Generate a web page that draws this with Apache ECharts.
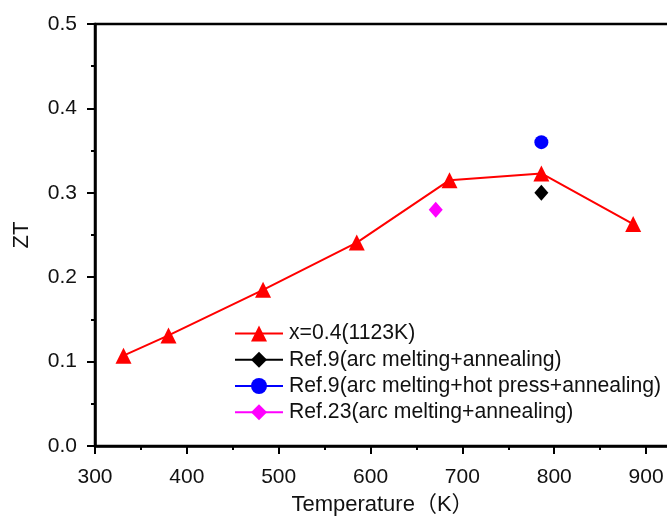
<!DOCTYPE html>
<html>
<head>
<meta charset="utf-8">
<script src="https://cdn.jsdelivr.net/npm/echarts@6/dist/echarts.min.js"></script>
<style>
  html, body { margin: 0; padding: 0; background: #ffffff; }
  #chart { width: 667px; height: 518px; }
</style>
</head>
<body>
<div id="chart"></div>
<script>
// ZT versus temperature for the x=0.4 sample, with literature reference points
const temperatures = [331, 380, 483, 585, 686, 786, 886];
const ztValues = [0.107, 0.131, 0.185, 0.241, 0.315, 0.323, 0.263];

const ref9ArcAnneal = [[786, 0.300]];
const ref9HotPress = [[786, 0.360]];
const ref23ArcAnneal = [[671, 0.280]];

const seriesNames = [
  'x=0.4(1123K)',
  'Ref.9(arc melting+annealing)',
  'Ref.9(arc melting+hot press+annealing)',
  'Ref.23(arc melting+annealing)'
];

const xTicks = { min: 300, max: 950, step: 100 };
const yTicks = { min: 0, max: 0.5, step: 0.1 };

const FONT = "'Liberation Sans', Arial, 'Noto Sans CJK SC', sans-serif";
const INK = '#111111';

const chart = echarts.init(document.getElementById('chart'), null, { renderer: 'canvas' });

const mainPairs = temperatures.map((t, i) => [t, ztValues[i]]);

chart.setOption({
  animation: false,
  backgroundColor: '#ffffff',
  grid: {
    left: 95, top: 24, width: 597, height: 422,
    outerBoundsMode: 'none', containLabel: false,
    show: true, borderColor: '#000', borderWidth: 2.5, backgroundColor: 'transparent'
  },
  legend: {
    orient: 'vertical',
    left: 229, top: 318,
    itemWidth: 48, itemHeight: 20, itemGap: 5,
    textStyle: { fontFamily: FONT, fontSize: 21.2, color: INK, padding: [0, 0, 0, 1] },
    data: seriesNames
  },
  xAxis: {
    type: 'value',
    min: xTicks.min, max: xTicks.max, interval: xTicks.step,
    name: 'Temperature（K）',
    nameLocation: 'middle',
    nameGap: 48,
    nameTextStyle: { fontFamily: FONT, fontSize: 22, color: INK, padding: [0, 22, 0, 0] },
    axisLine: { onZero: false, lineStyle: { color: '#000', width: 2.5 } },
    axisTick: { inside: false, length: 8, lineStyle: { color: '#000', width: 2 } },
    minorTick: { show: true, splitNumber: 2, length: 4, lineStyle: { color: '#000', width: 2 } },
    axisLabel: { fontFamily: FONT, fontSize: 21, color: INK, margin: 21,
      formatter: v => (v % 100 === 0 ? String(v) : '') },
    splitLine: { show: false }
  },
  yAxis: {
    type: 'value',
    min: yTicks.min, max: yTicks.max, interval: yTicks.step,
    name: 'ZT',
    nameLocation: 'middle',
    nameGap: 62,
    nameRotate: 90,
    nameTextStyle: { fontFamily: FONT, fontSize: 22, color: INK },
    axisLine: { onZero: false, lineStyle: { color: '#000', width: 2.5 } },
    axisTick: { inside: false, length: 8, lineStyle: { color: '#000', width: 2 } },
    minorTick: { show: true, splitNumber: 2, length: 4, lineStyle: { color: '#000', width: 2 } },
    axisLabel: { fontFamily: FONT, fontSize: 21, color: INK, margin: 18,
      formatter: v => v.toFixed(1) },
    splitLine: { show: false }
  },
  series: [
    {
      name: seriesNames[0], type: 'line', data: mainPairs,
      symbol: 'triangle', symbolSize: 16,
      itemStyle: { color: '#ff0000' },
      lineStyle: { color: '#ff0000', width: 2 }, z: 3
    },
    {
      name: seriesNames[1], type: 'line', data: ref9ArcAnneal,
      symbol: 'diamond', symbolSize: [14, 16],
      itemStyle: { color: '#000000' },
      lineStyle: { color: '#000000', width: 2 }
    },
    {
      name: seriesNames[2], type: 'line', data: ref9HotPress,
      symbol: 'circle', symbolSize: 14,
      itemStyle: { color: '#0000ff' },
      lineStyle: { color: '#0000ff', width: 2 }
    },
    {
      name: seriesNames[3], type: 'line', data: ref23ArcAnneal,
      symbol: 'diamond', symbolSize: [14, 16],
      itemStyle: { color: '#ff00ff' },
      lineStyle: { color: '#ff00ff', width: 2 }
    }
  ]
});
</script>
</body>
</html>
